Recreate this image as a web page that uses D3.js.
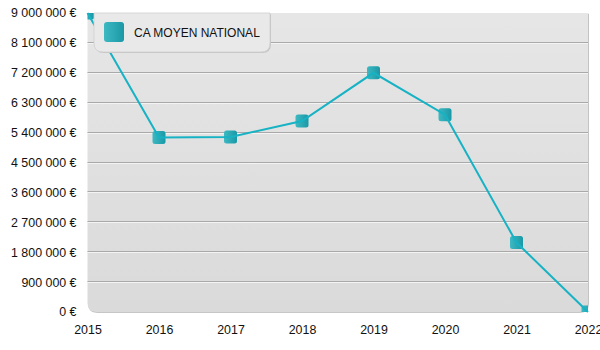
<!DOCTYPE html>
<html>
<head>
<meta charset="utf-8">
<script src="https://cdn.jsdelivr.net/npm/d3@7"></script>
<style>
  html, body { margin: 0; padding: 0; background: #ffffff; }
  svg { display: block; font-family: "Liberation Sans", Arial, sans-serif; }
</style>
</head>
<body>
<svg id="chart" width="600" height="350"></svg>
<script>
// Chiffre d'affaires moyen national par année
const years = [2015, 2016, 2017, 2018, 2019, 2020, 2021, 2022];
const caMoyen = [9000000, 5250000, 5270000, 5750000, 7200000, 5940000, 2090000, 0];
const seriesName = "CA MOYEN NATIONAL";
const yTicks = [0, 900000, 1800000, 2700000, 3600000, 4500000, 5400000, 6300000, 7200000, 8100000, 9000000];

(function () {
const svg = d3.select("#chart");
const pLeft = 87.5, pRight = 588, pTop = 13, pBottom = 312;

const x = d3.scaleLinear().domain([2015, 2022]).range([pLeft, pRight]);
const y = d3.scaleLinear().domain([0, 9000000]).range([pBottom, pTop]);

const fmt = v => d3.format(",")(v).replace(/,/g, " ") + " €";

const defs = svg.append("defs");
const bg = defs.append("linearGradient").attr("id", "bg").attr("x1", 0).attr("y1", 0).attr("x2", 0).attr("y2", 1);
bg.append("stop").attr("offset", "0%").attr("stop-color", "#e6e6e6");
bg.append("stop").attr("offset", "100%").attr("stop-color", "#dadada");

const mk = defs.append("linearGradient").attr("id", "mk").attr("x1", 0).attr("y1", 0).attr("x2", 1).attr("y2", 0);
mk.append("stop").attr("offset", "0%").attr("stop-color", "#3cb9c2");
mk.append("stop").attr("offset", "100%").attr("stop-color", "#1a98a6");

defs.append("clipPath").attr("id", "plotClip")
  .append("rect").attr("x", pLeft).attr("y", pTop).attr("width", pRight - pLeft).attr("height", pBottom - pTop);

// Panel background with rounded lower corners and a soft edge
const r = 9;
const panelPath = `M${pLeft},${pTop} H${pRight} V${pBottom - r} Q${pRight},${pBottom} ${pRight - r},${pBottom} H${pLeft + r} Q${pLeft},${pBottom} ${pLeft},${pBottom - r} Z`;
svg.append("path").attr("d", panelPath).attr("transform", "translate(0.8,0.8)")
  .attr("fill", "#b4b4b4");
svg.append("path").attr("d", panelPath).attr("fill", "url(#bg)");

// Horizontal grid lines (dark line with light highlight)
const grid = svg.append("g");
const gridTicks = yTicks.filter(t => t > 0 && t < 9000000);
grid.selectAll("line.g1").data(gridTicks).join("line").attr("class", "g1")
  .attr("x1", pLeft).attr("x2", pRight)
  .attr("y1", d => Math.round(y(d)) - 0.5).attr("y2", d => Math.round(y(d)) - 0.5)
  .attr("stroke", "#a9a9a9").attr("stroke-width", 1);
grid.selectAll("line.g2").data(gridTicks).join("line").attr("class", "g2")
  .attr("x1", pLeft).attr("x2", pRight)
  .attr("y1", d => Math.round(y(d)) + 0.5).attr("y2", d => Math.round(y(d)) + 0.5)
  .attr("stroke", "#f4f4f4").attr("stroke-width", 1);

// Y axis labels
const yAxis = d3.axisLeft(y).tickValues(yTicks).tickFormat(fmt).tickSize(0).tickPadding(11);
const gy = svg.append("g").attr("transform", `translate(${pLeft},0)`).call(yAxis);
gy.select(".domain").remove();
gy.selectAll("text").attr("font-size", 12.4).attr("fill", "#111")
  .attr("font-family", "'Liberation Sans', Arial, sans-serif");

// X axis labels
const xAxis = d3.axisBottom(x).tickValues(years).tickFormat(d3.format("d")).tickSize(0).tickPadding(13);
const gx = svg.append("g").attr("transform", `translate(0,${pBottom})`).call(xAxis);
gx.select(".domain").remove();
gx.selectAll("text").attr("font-size", 12.4).attr("fill", "#111")
  .attr("font-family", "'Liberation Sans', Arial, sans-serif");

// Series line and markers
const data = years.map((yr, i) => ({ yr, v: caMoyen[i] }));
const plot = svg.append("g").attr("clip-path", "url(#plotClip)");

svg.append("path").datum(data)
  .attr("fill", "none").attr("stroke", "#17b2c4").attr("stroke-width", 2)
  .attr("d", d3.line().x(d => x(d.yr)).y(d => y(d.v)));

const ms = 13;
plot.selectAll("rect.m").data(data).join("rect").attr("class", "m")
  .attr("x", d => x(d.yr) - ms / 2).attr("y", d => y(d.v) - ms / 2)
  .attr("width", ms).attr("height", ms).attr("rx", 2.5)
  .attr("fill", "url(#mk)");

// Legend
const lg = svg.append("g");
const lx = 94, ly = pTop, lw = 176, lh = 39, lr = 9;
const lgPath = `M${lx},${ly} H${lx + lw} V${ly + lh - lr} Q${lx + lw},${ly + lh} ${lx + lw - lr},${ly + lh} H${lx + lr} Q${lx},${ly + lh} ${lx},${ly + lh - lr} Z`;
lg.append("path").attr("d", lgPath).attr("transform", "translate(1,1)").attr("fill", "#c4c4c4");
lg.append("path").attr("d", lgPath).attr("fill", "#e9e9e9").attr("stroke", "#cfcfcf").attr("stroke-width", 0.8);
lg.append("rect").attr("x", 104).attr("y", 22).attr("width", 20).attr("height", 20).attr("rx", 3)
  .attr("fill", "url(#mk)");
lg.append("text").attr("x", 134).attr("y", 37).attr("font-size", 12).attr("fill", "#111")
  .text(seriesName);
})();
</script>
</body>
</html>
